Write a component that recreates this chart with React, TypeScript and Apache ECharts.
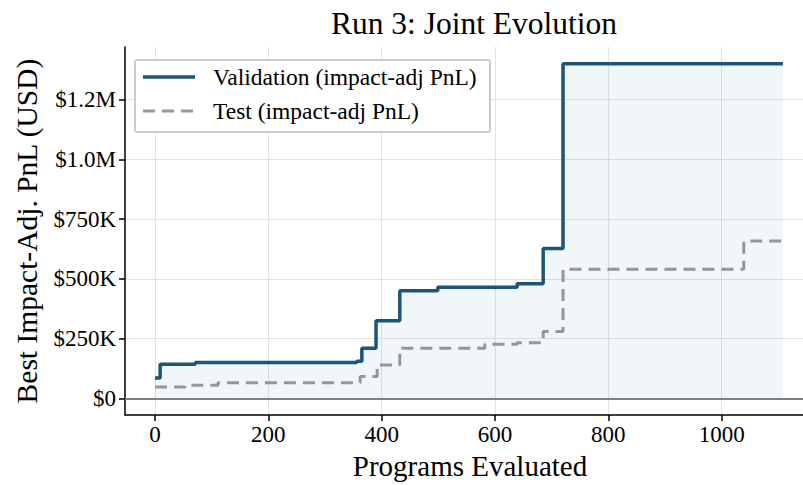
import React, { useEffect, useRef } from "react";
import * as echarts from "echarts";

const valX = [0, 9, 71, 356, 365, 390, 432, 499, 639, 685, 720, 1108];
const valY = [85000, 143000, 150000, 155000, 210000, 325000, 450000, 465000, 480000, 627000, 1400000, 1400000];
const testX = [0, 53, 111, 362, 392, 432, 582, 639, 685, 720, 1039, 1108];
const testY = [48000, 55000, 65000, 92000, 140000, 210000, 226000, 233000, 280000, 540000, 658000, 658000];

const xTicks = [0, 200, 400, 600, 800, 1000];
const yTicks = [0, 250000, 500000, 750000, 1000000, 1250000];
const yTickLabels = ["$0", "$250K", "$500K", "$750K", "$1.0M", "$1.2M"];

const seriesNames = ["Validation (impact-adj PnL)", "Test (impact-adj PnL)"];
const title = "Run 3: Joint Evolution";
const xName = "Programs Evaluated";
const yName = "Best Impact-Adj. PnL (USD)";

const FONT = "'Liberation Serif', 'Times New Roman', serif";
const VAL_COLOR = "#1b557a";
const TEST_COLOR = "#999999";

export default function App() {
  const ref = useRef<HTMLDivElement>(null);
  useEffect(() => {
    if (!ref.current) return;
    const chart = echarts.init(ref.current, undefined, { renderer: "svg" });
    const valData = valX.map((x, i) => [x, valY[i]]);
    const testData = testX.map((x, i) => [x, testY[i]]);
    chart.setOption({
      animation: false,
      backgroundColor: "#ffffff",
      textStyle: { fontFamily: FONT },
      title: {
        text: title,
        left: 469,
        top: 2,
        textAlign: "center",
        textStyle: { fontFamily: FONT, fontSize: 31.5, fontWeight: "normal", color: "#000" },
      },
      grid: { left: 125, top: 47, right: 0, height: 370 },
      xAxis: {
        type: "value",
        min: -53,
        max: 1143.5,
        name: xName,
        nameLocation: "middle",
        nameGap: 34,
        nameTextStyle: { fontFamily: FONT, fontSize: 29, color: "#000", padding: [0, 0, 0, 12] },
        axisLine: { show: true, onZero: false, lineStyle: { color: "#000", width: 1.5 } },
        axisTick: { show: true, length: 6, customValues: xTicks, lineStyle: { color: "#000", width: 1.5 } },
        axisLabel: {
          customValues: xTicks,
          margin: 8,
          fontFamily: FONT,
          fontSize: 23,
          color: "#000",
          formatter: (v: number) => String(v),
        },
        splitLine: { show: true, lineStyle: { color: "#e2e2e2", width: 1 } },
      },
      yAxis: {
        type: "value",
        min: -70000,
        max: 1470000,
        name: yName,
        nameLocation: "middle",
        nameGap: 82,
        nameTextStyle: { fontFamily: FONT, fontSize: 29.5, color: "#000" },
        axisLine: { show: true, onZero: false, lineStyle: { color: "#000", width: 1.5 } },
        axisTick: { show: true, length: 6, customValues: yTicks, lineStyle: { color: "#000", width: 1.5 } },
        axisLabel: {
          customValues: yTicks,
          margin: 9,
          fontFamily: FONT,
          fontSize: 23,
          color: "#000",
          formatter: (v: number) => {
            const i = yTicks.indexOf(v);
            return i >= 0 ? yTickLabels[i] : "";
          },
        },
        splitLine: { show: true, lineStyle: { color: "#e2e2e2", width: 1 } },
      },
      graphic: [
        {
          type: "rect",
          z: 100,
          shape: { x: 135, y: 60, width: 355, height: 72, r: 2 },
          style: { fill: "#ffffff", stroke: "#cccccc", lineWidth: 2 },
        },
        {
          type: "line",
          z: 101,
          shape: { x1: 143, y1: 77, x2: 195, y2: 77 },
          style: { stroke: VAL_COLOR, lineWidth: 3.5 },
        },
        {
          type: "line",
          z: 101,
          shape: { x1: 143, y1: 111, x2: 195, y2: 111 },
          style: { stroke: TEST_COLOR, lineWidth: 3, lineDash: [12, 7] },
        },
        {
          type: "text",
          z: 101,
          x: 213,
          y: 77,
          style: { text: seriesNames[0], font: `23.5px ${FONT}`, fill: "#000", verticalAlign: "middle" },
        },
        {
          type: "text",
          z: 101,
          x: 213,
          y: 111,
          style: { text: seriesNames[1], font: `23.5px ${FONT}`, fill: "#000", verticalAlign: "middle" },
        },
      ],
      series: [
        {
          name: seriesNames[0],
          type: "line",
          step: "end",
          data: valData,
          symbol: "none",
          z: 4,
          lineStyle: { color: VAL_COLOR, width: 3.5 },
          itemStyle: { color: VAL_COLOR },
          areaStyle: { color: "rgba(55,135,175,0.1)", origin: 0 },
          markLine: {
            silent: true,
            symbol: ["none", "none"],
            label: { show: false },
            lineStyle: { color: "#808080", width: 1.8, type: "solid" },
            data: [{ yAxis: 0 }],
          },
        },
        {
          name: seriesNames[1],
          type: "line",
          step: "end",
          data: testData,
          symbol: "none",
          z: 3,
          lineStyle: { color: TEST_COLOR, width: 3, type: [12, 7] },
          itemStyle: { color: TEST_COLOR },
        },
      ],
    });
    return () => chart.dispose();
  }, []);
  return (
    <div
      ref={ref}
      style={{ position: "fixed", left: 0, top: 0, width: 803, height: 485 }}
    />
  );
}
